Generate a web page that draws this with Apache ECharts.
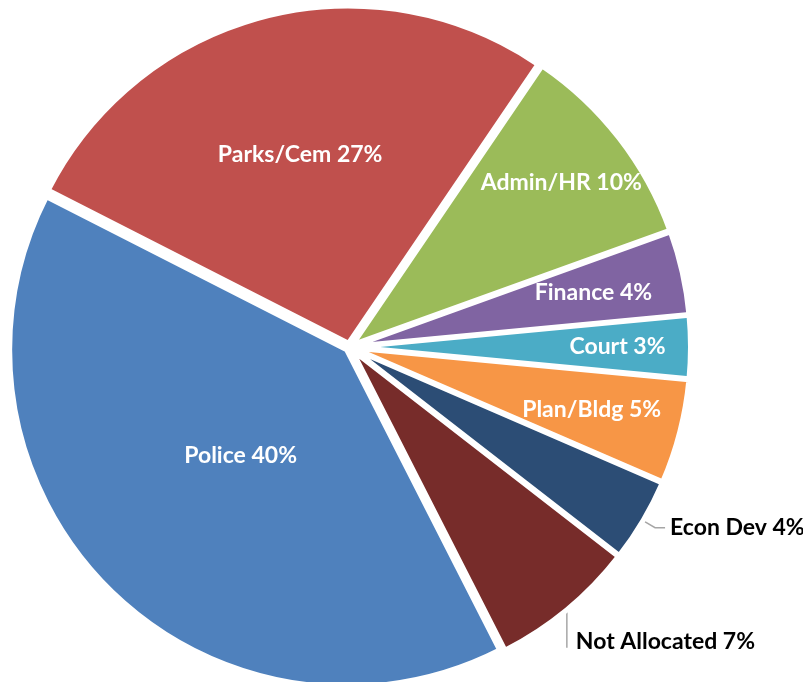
<!DOCTYPE html>
<html><head><meta charset="utf-8">
<script src="https://cdn.jsdelivr.net/npm/echarts@6/dist/echarts.min.js"></script>
<style>html,body{margin:0;padding:0;background:#fff}#c{width:803px;height:682px}</style>
</head><body><div id="c"></div>
<script>
const categories = ['Police', 'Parks/Cem', 'Admin/HR', 'Finance', 'Court', 'Plan/Bldg', 'Econ Dev', 'Not Allocated'];
const values = [40, 27, 10, 4, 3, 5, 4, 7];
const palette = ['#4F81BD', '#C0504D', '#9BBB59', '#8064A2', '#4BACC6', '#F79646', '#2C4D75', '#772C2A'];

const labelGroupA = ['Police'];
const labelGroupB = ['Parks/Cem'];
const labelGroupC = ['Admin/HR', 'Court'];
const labelGroupD = ['Finance', 'Plan/Bldg'];
const outside = ['Econ Dev', 'Not Allocated'];

const FONT = 'Lato';
const FS = 23;
const C = [349.5, 347];
const R = 337;
const START = -63;

const chart = echarts.init(document.getElementById('c'), null, {renderer: 'canvas'});

function mainData() {
  return categories.map((n, i) => ({
    name: n, value: values[i], selected: true,
    itemStyle: {color: palette[i]},
    label: {show: outside.includes(n)},
    labelLine: {show: outside.includes(n)}
  }));
}
function overlayData(list) {
  return categories.map((n, i) => ({
    name: n, value: values[i],
    label: {show: list.includes(n)}
  }));
}
const insideLabel = {position: 'inside', color: '#fff', fontFamily: FONT, fontWeight: 'bold', fontSize: FS, formatter: '{b} {d}%'};
function overlay(list, radius) {
  return {
    type: 'pie', silent: true, clockwise: true, startAngle: START, center: C, radius: radius,
    percentPrecision: 0, avoidLabelOverlap: false,
    itemStyle: {color: 'rgba(0,0,0,0)', borderWidth: 0},
    label: insideLabel, labelLine: {show: false},
    emphasis: {disabled: true},
    data: overlayData(list), z: 5
  };
}

chart.setOption({
  animation: false,
  backgroundColor: '#fff',
  series: [
    {
      type: 'pie', silent: true, clockwise: true, startAngle: START, center: C, radius: [0, R],
      percentPrecision: 0, avoidLabelOverlap: false,
      selectedMode: 'multiple', selectedOffset: 4,
      itemStyle: {borderColor: '#fff', borderWidth: 5},
      label: {position: 'outside', color: '#000', fontFamily: FONT, fontWeight: 'bold', fontSize: FS, formatter: '{b} {d}%', distanceToLabelLine: 5},
      labelLine: {length: 14, length2: 10, lineStyle: {color: '#A6A6A6', width: 1.5}},
      labelLayout: function (p) {
        if (categories[p.dataIndex] !== 'Not Allocated' || !p.labelLinePoints) return {};
        const x0 = p.labelLinePoints[0][0], y0 = p.labelLinePoints[0][1];
        return {
          dx: -15, dy: 21,
          labelLinePoints: [[x0, y0 + 2], [x0, y0 + 38], [x0, y0 + 38]]
        };
      },
      emphasis: {disabled: true},
      data: mainData()
    },
    overlay(labelGroupA, [0, 302]),
    overlay(labelGroupB, [0, 391]),
    overlay(labelGroupC, [0, 530]),
    overlay(labelGroupD, [0, 494])
  ]
});
</script></body></html>
